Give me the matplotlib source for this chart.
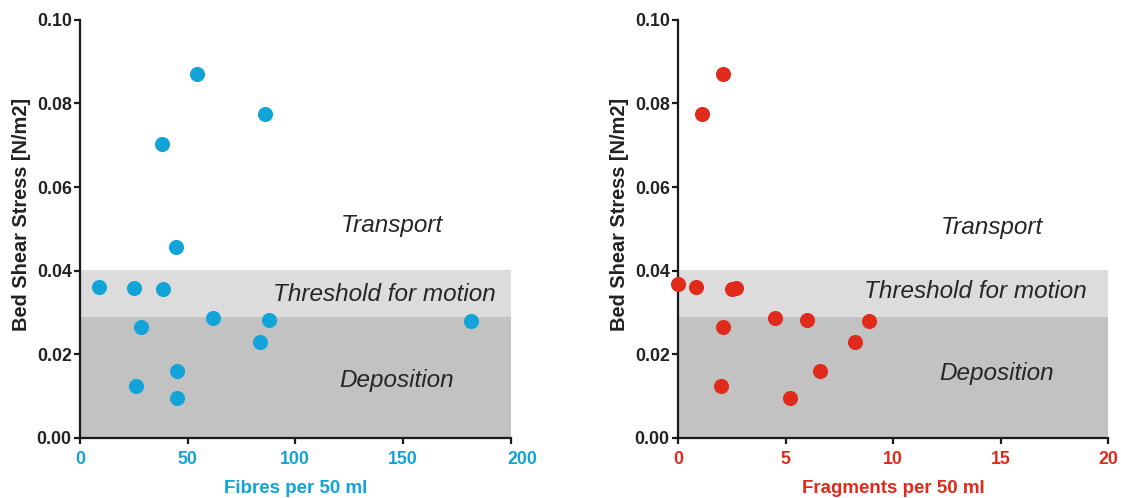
import matplotlib
matplotlib.use("Agg")
import matplotlib.pyplot as plt
import matplotlib.transforms as mtransforms

plt.rcParams["font.family"] = ["Liberation Sans", "DejaVu Sans"]

# shear stress thresholds [N/m2]
threshold_low = 0.0288
threshold_high = 0.0402

# fibres per 50 ml vs bed shear stress
fibres_x = [54.3, 85.9, 38.2, 44.7, 8.6, 25.0, 38.4, 61.8, 87.6, 181.5, 28.5, 83.4, 45.0, 26.0, 45.2]
fibres_y = [0.0870, 0.0775, 0.0703, 0.0456, 0.0360, 0.0359, 0.0355, 0.0286, 0.0282, 0.0279,
            0.0265, 0.0229, 0.0159, 0.0123, 0.0094]

# fragments per 50 ml vs bed shear stress
frag_x = [2.11, 1.10, 0.0, 0.83, 2.53, 2.70, 4.51, 5.99, 8.89, 2.08, 8.24, 6.59, 2.01, 5.19]
frag_y = [0.0870, 0.0775, 0.0368, 0.0360, 0.0355, 0.0359, 0.0286, 0.0282, 0.0279, 0.0265,
          0.0229, 0.0159, 0.0123, 0.0094]

blue = "#12a4d8"
red = "#e02a1c"

fig = plt.figure(figsize=(11.21, 4.98), dpi=100)
ax1 = fig.add_axes([0.0714, 0.121, 0.3840, 0.839])
ax2 = fig.add_axes([0.6048, 0.121, 0.3840, 0.839])

panels = [
    (ax1, fibres_x, fibres_y, blue, "Fibres per 50 ml", 200, [0, 50, 100, 150, 200],
     [(145, 0.0507), (141.5, 0.0343), (147, 0.0136)]),
    (ax2, frag_x, frag_y, red, "Fragments per 50 ml", 20, [0, 5, 10, 15, 20],
     [(14.6, 0.0502), (13.8, 0.0349), (14.8, 0.0153)]),
]

for ax, xs, ys, col, xlabel, xmax, xticks, txt in panels:
    ax.axhspan(0, threshold_low, color="#c2c2c2", zorder=0, lw=0)
    ax.axhspan(threshold_low, threshold_high, color="#dcdcdc", zorder=0, lw=0)
    ax.scatter(xs, ys, s=118, color=col, zorder=3, clip_on=False, linewidths=0)

    ax.set_xlim(0, xmax)
    ax.set_ylim(0, 0.1)
    ax.set_xticks(xticks)
    ax.set_yticks([0, 0.02, 0.04, 0.06, 0.08, 0.10])
    ax.set_yticklabels(["0.00", "0.02", "0.04", "0.06", "0.08", "0.10"])

    for s in ["top", "right"]:
        ax.spines[s].set_visible(False)
    for s in ["left", "bottom"]:
        ax.spines[s].set_linewidth(1.6)
        ax.spines[s].set_color("#1a1a1a")

    ax.tick_params(axis="both", direction="out", length=4.5, width=1.6, color="#1a1a1a")
    ax.tick_params(axis="y", labelsize=12.75, labelcolor="#222222", pad=1.5)
    ax.tick_params(axis="x", labelsize=12.75, labelcolor=col, pad=5)
    for lab in ax.get_xticklabels() + ax.get_yticklabels():
        lab.set_fontweight("bold")

    ax.set_xlabel(xlabel, color=col, fontsize=13.5, fontweight="bold", labelpad=9)
    ax.set_ylabel("Bed Shear Stress [N/m2]", color="#222222", fontsize=14.4,
                  fontweight="bold")
    ax.yaxis.set_label_coords(-0.113, 0.535)

    labels = ["Transport", "Threshold for motion", "Deposition"]
    for (tx, ty), t in zip(txt, labels):
        ax.text(tx, ty, t, ha="center", va="center", fontsize=17.5,
                style="italic", color="#262626")

# last tick label of the fibres axis sits a bit right of its tick
last = ax1.get_xticklabels()[-1]
last.set_transform(last.get_transform() + mtransforms.ScaledTranslation(0.12, 0, fig.dpi_scale_trans))

fig.savefig("out.png", dpi=100)
